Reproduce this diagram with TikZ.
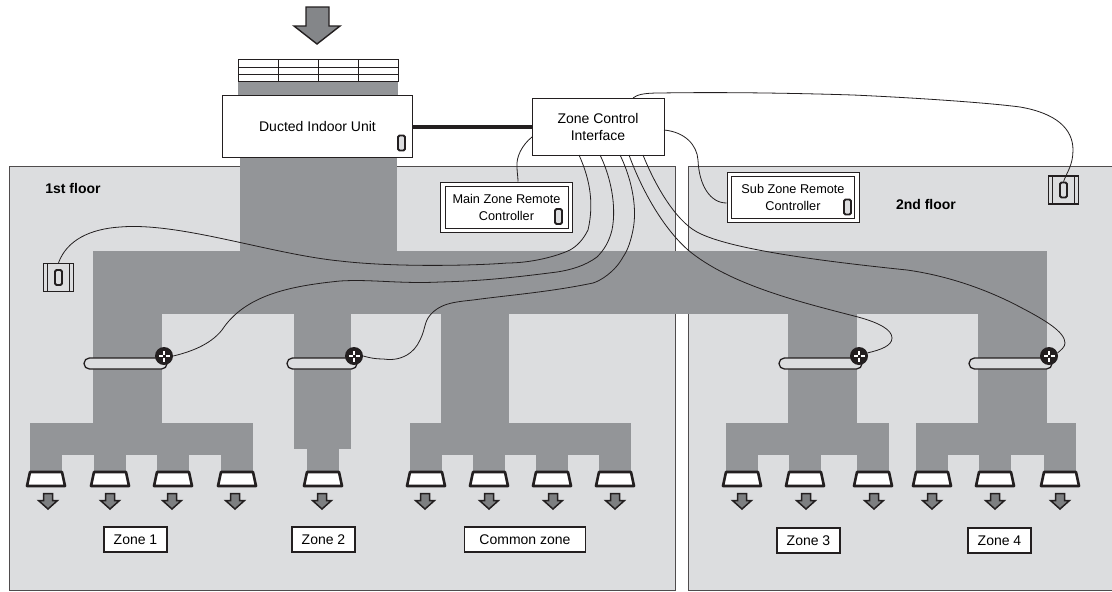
\documentclass[tikz,border=0pt]{standalone}
\usepackage{fontspec}
\setmainfont{Liberation Sans}
\definecolor{floorgray}{HTML}{DCDDDF}
\definecolor{ductgray}{HTML}{939598}
\definecolor{inkdark}{HTML}{231F20}
\tikzset{
	floorbox/.style={draw=inkdark!80,fill=floorgray,line width=1pt},
	duct/.style={fill=ductgray},
	wire/.style={draw=inkdark,line width=0.8pt},
	labelbox/.style={draw=inkdark,fill=white,line width=1.2pt,inner sep=0pt,font=\fontsize{14}{16}\selectfont},
	remotebox/.style={draw=inkdark,fill=white,line width=1pt,inner sep=0pt,minimum width=132pt,minimum height=50pt},
	remotetext/.style={draw=inkdark,fill=white,line width=1pt,inner sep=0pt,minimum width=123pt,minimum height=42pt,align=center,font=\fontsize{12.7}{17}\selectfont},
	indicator/.style={draw=inkdark,fill=floorgray,line width=1.8pt,rounded corners=1.5pt,inner sep=0pt,minimum width=7pt,minimum height=15pt},
	sensorbox/.style={draw=inkdark,fill=floorgray,line width=1.4pt,inner sep=0pt,minimum width=30pt,minimum height=28pt},
	valve/.style={circle,fill=inkdark,inner sep=0pt,minimum size=18pt},
	grille/.pic={
		\draw[inkdark,fill=white,line width=2.6pt,line join=round] (-16,0) -- (16,0) -- (19,14) -- (-19,14) -- cycle;
	},
	airarrow/.pic={
		\draw[inkdark,fill=ductgray!85!black,line width=1.5pt,line join=miter] (-4.5,0) -- (4.5,0) -- (4.5,7) -- (9.5,7) -- (0,15.5) -- (-9.5,7) -- (-4.5,7) -- cycle;
	},
	pics/damper/.style={code={
		\draw[inkdark,fill=floorgray,line width=1.3pt,rounded corners=5.4pt] (-#1,2) rectangle (3,13);
		\node[valve] (-valve) at (0,0) {};
		\foreach \sx in {-1,1} {
			\draw[white,line width=1.4pt] (\sx*1.5,0) -- (\sx*5.5,0);
			\draw[white,line width=1.4pt] (0,\sx*1.5) -- (0,\sx*5.5);
		}
	}},
}
\begin{document}
\begin{tikzpicture}[x=1pt,y=-1pt]
	\useasboundingbox (0,0) rectangle (1112,592);
	% floors
	\fill[white] (0,0) rectangle (1112,592);
	\draw[floorbox] (9,166.5) rectangle (675.5,590.5);
	\draw[floorbox] (1114,166.5) -- (688.5,166.5) -- (688.5,590.5) -- (1114,590.5);
	% ducts
	\fill[duct] (238,80) rectangle (398,96);
	\fill[duct] (240,157) rectangle (397,252);
	\fill[duct] (93,251) rectangle (1047,314);
	\fill[duct] (93,313) rectangle (162,424);
	\fill[duct] (294,313) rectangle (351,449);
	\fill[duct] (441,313) rectangle (509,424);
	\fill[duct] (788,313) rectangle (857,424);
	\fill[duct] (978,313) rectangle (1047,424);
	\fill[duct] (30,423) rectangle (253,455);
	\fill[duct] (410,423) rectangle (631,455);
	\fill[duct] (726,423) rectangle (889,455);
	\fill[duct] (916,423) rectangle (1076,455);
	\foreach \sx in {46,110,173,237,323,426,489,552,615,742,805,873,932,995,1060} {
		\fill[duct] (\sx-16,448) rectangle (\sx+16,472);
	}
	% filter
	\draw[inkdark,fill=white,line width=1pt] (238.5,59.5) rectangle (398,81);
	\draw[inkdark,line width=1pt] (238.5,67) -- (398,67);
	\draw[inkdark,line width=1pt] (238.5,74) -- (398,74);
	\foreach \sx in {278,318,358} {
		\draw[inkdark,line width=1pt] (\sx,59.5) -- (\sx,81);
	}
	\draw[inkdark,fill=ductgray!90!black,line width=1.4pt] (306,7) -- (329,7) -- (329,26) -- (340,26) -- (317,44) -- (294,26) -- (306,26) -- cycle;
	% units and controllers
	\node[labelbox,line width=1.8pt,minimum width=190pt,minimum height=62pt] (unit) at (317.5,126.5) {Ducted Indoor Unit};
	\node[labelbox,line width=1pt,minimum width=132pt,minimum height=57pt,align=center,font=\fontsize{14}{17}\selectfont] (zci) at (598,126.5) {Zone Control\\Interface};
	\node[remotebox] (mainrc) at (506.5,207) {};
	\node[remotetext] (mainrctext) at (mainrc) {Main Zone Remote\\Controller};
	\node[remotebox] (subrc) at (793,197.5) {};
	\node[remotetext] (subrctext) at (subrc) {Sub Zone Remote\\Controller};
	\node[indicator] (unitled) at (401.5,143) {};
	\node[indicator] (mainled) at (558.5,216.5) {};
	\node[indicator] (subled) at (847.5,207) {};
	\draw[inkdark,line width=4pt] (unit.east) -- (zci.west);
	% wall sensors
	\foreach \nm/\cx/\cy in {sensorl/58.5/277.5,sensorr/1063.5/190} {
		\node[sensorbox] (\nm) at (\cx,\cy) {};
		\draw[inkdark,line width=1.1pt] (\cx-11,\cy-14) -- (\cx-11,\cy+14);
		\draw[inkdark,line width=1.1pt] (\cx+11,\cy-14) -- (\cx+11,\cy+14);
		\node[indicator] (\nm led) at (\cx,\cy) {};
	}
	% dampers
	\pic (zonea) at (164,356) {damper=80};
	\pic (zoneb) at (354,356) {damper=67};
	\pic (zonec) at (859,356) {damper=80};
	\pic (zoned) at (1049,356) {damper=80};
	% outlets
	\foreach \gx/\ax in {46/48,110/110,173/172,237/235,323/322,426/425,489/489,552/553,615/615,742/742,805/806,873/874,932/932,995/995,1060/1060} {
		\pic at (\gx,472) {grille};
		\pic at (\ax,493.5) {airarrow};
	}
	% zone names
	\node[labelbox,minimum width=63pt,minimum height=25pt] (zone1) at (135.5,539.5) {Zone 1};
	\node[labelbox,minimum width=63pt,minimum height=25pt] (zone2) at (323.5,539.5) {Zone 2};
	\node[labelbox,minimum width=121pt,minimum height=25pt] (zonecm) at (525,539.5) {Common zone};
	\node[labelbox,minimum width=63pt,minimum height=25pt] (zone3) at (808.5,540.5) {Zone 3};
	\node[labelbox,minimum width=63pt,minimum height=25pt] (zone4) at (999.5,540.5) {Zone 4};
	\node[font=\fontsize{14}{16}\selectfont\bfseries] (floora) at (73,188) {1st floor};
	\node[font=\fontsize{14}{16}\selectfont\bfseries] (floorb) at (926,204) {2nd floor};
	% wires
	\coordinate (zcib) at (579,155);
	\coordinate (zcic) at (600,155);
	\coordinate (zcid) at (620,155);
	\coordinate (zcie) at (629,155);
	\coordinate (zcif) at (643,155);
	\coordinate (zcit) at (633,98);
	\coordinate (zcil) at (532,137);
	\coordinate (zcir) at (664,130);
	\draw[wire] (zcil) .. controls (522,145) and (516,157) .. (517,167) .. controls (517,172) and (518,177) .. ([xshift=11.5pt]mainrc.north);
	\draw[wire] (zcib) .. controls (588,175) and (595,200) .. (588,230) .. controls (583,240) and (577,246) .. (570,250) .. controls (555,257) and (530,263) .. (507,263) .. controls (485,265) and (400,268) .. (340,261) .. controls (270,254) and (180,222) .. (120,227) .. controls (90,229) and (67,240) .. (sensorl.north);
	\draw[wire] (zcic) .. controls (610,175) and (617,205) .. (612,230) .. controls (609,242) and (604,250) .. (597,257) .. controls (585,266) and (570,270) .. (557,272) .. controls (510,278) and (480,281) .. (440,282) .. controls (400,284) and (370,279) .. (340,281) .. controls (290,286) and (245,295) .. (222,330) .. controls (210,345) and (190,352) .. (zonea-valve.east);
	\draw[wire] (zcid) .. controls (630,175) and (638,205) .. (633,230) .. controls (631,240) and (628,250) .. (623,257) .. controls (615,272) and (600,281) .. (593,283) .. controls (550,292) and (510,295) .. (473,300) .. controls (455,302) and (438,303) .. (428,318) .. controls (424,325) and (425,330) .. (420,340) .. controls (417,347) and (412,352) .. (407,355) .. controls (398,360) and (390,360) .. (383,359) .. controls (376,359) and (370,358) .. (zoneb-valve.east);
	\draw[wire] (zcie) .. controls (640,185) and (660,225) .. (688,250) .. controls (730,285) and (800,302) .. (858,317) .. controls (880,323) and (892,330) .. (892,338) .. controls (892,346) and (880,350) .. (zonec-valve.20);
	\draw[wire] (zcif) .. controls (655,185) and (675,220) .. (697,232) .. controls (730,250) and (830,262) .. (907,270) .. controls (950,276) and (990,291) .. (1020,307) .. controls (1045,320) and (1065,332) .. (1065,343) .. controls (1065,347) and (1061,350) .. (zoned-valve.20);
	\draw[wire] (zcit) .. controls (637,95) and (642,93) .. (660,93) .. controls (720,92) and (790,93) .. (853,95) .. controls (920,98) and (990,103) .. (1020,107) .. controls (1055,113) and (1073,128) .. (1073,150) .. controls (1073,165) and (1067,172) .. (sensorrled.north);
	\draw[wire] (zcir) .. controls (685,132) and (697,145) .. (698,160) .. controls (699,185) and (710,203) .. ([yshift=-5.5pt]subrc.west);
\end{tikzpicture}
\end{document}
